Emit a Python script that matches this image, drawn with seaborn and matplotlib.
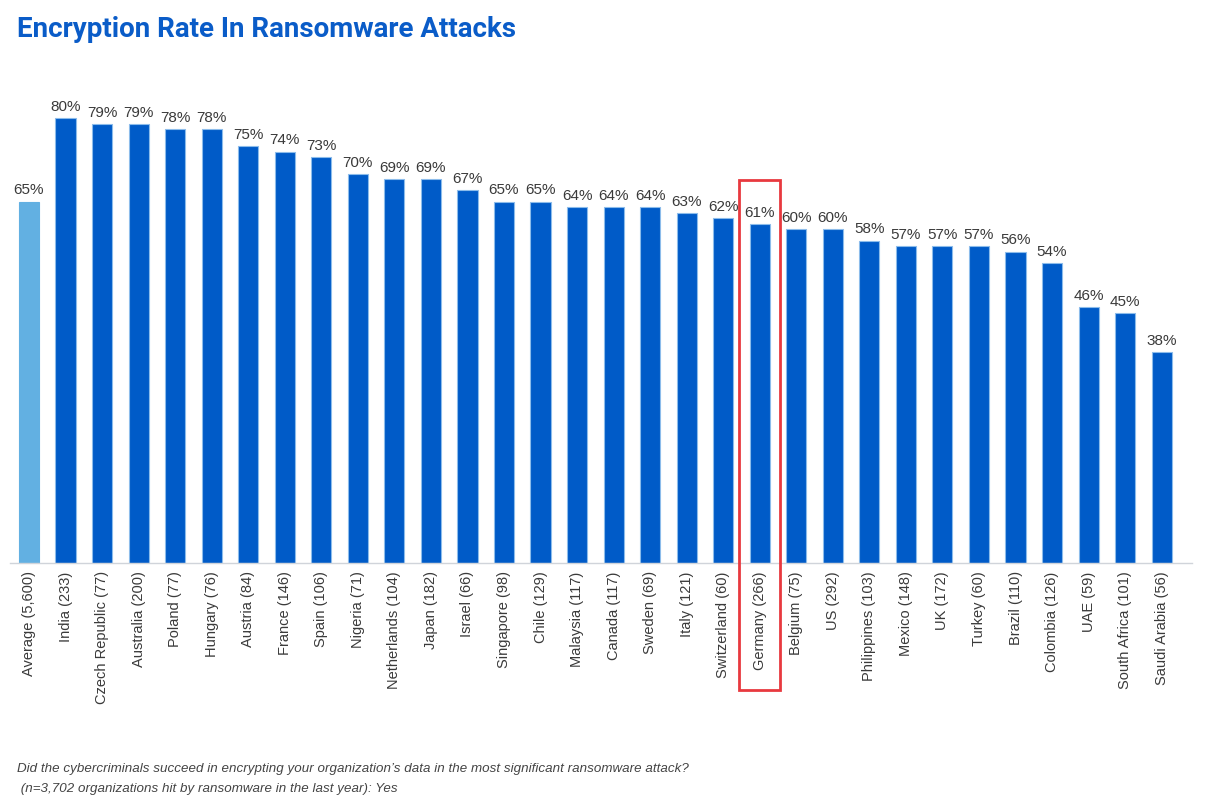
import matplotlib
matplotlib.use("Agg")
import matplotlib.pyplot as plt
import matplotlib.transforms as mtransforms
from matplotlib.patches import Rectangle
import seaborn as sns
import pandas as pd

countries = ["Average (5,600)", "India (233)", "Czech Republic (77)", "Australia (200)",
             "Poland (77)", "Hungary (76)", "Austria (84)", "France (146)", "Spain (106)",
             "Nigeria (71)", "Netherlands (104)", "Japan (182)", "Israel (66)",
             "Singapore (98)", "Chile (129)", "Malaysia (117)", "Canada (117)",
             "Sweden (69)", "Italy (121)", "Switzerland (60)", "Germany (266)",
             "Belgium (75)", "US (292)", "Philippines (103)", "Mexico (148)", "UK (172)",
             "Turkey (60)", "Brazil (110)", "Colombia (126)", "UAE (59)",
             "South Africa (101)", "Saudi Arabia (56)"]
rates = [65, 80, 79, 79, 78, 78, 75, 74, 73, 70, 69, 69, 67, 65, 65, 64, 64, 64, 63,
         62, 61, 60, 60, 58, 57, 57, 57, 56, 54, 46, 45, 38]
highlight = "Germany (266)"

title = "Encryption Rate In Ransomware Attacks"
note1 = "Did the cybercriminals succeed in encrypting your organization\u2019s data in the most significant ransomware attack?"
note2 = " (n=3,702 organizations hit by ransomware in the last year): Yes"

sns.set_theme(style="white")
plt.rcParams["font.family"] = ["Liberation Sans", "DejaVu Sans"]

W, H = 1208, 807
fig = plt.figure(figsize=(W / 100, H / 100), dpi=100)
ax = fig.add_axes([10 / W, 1 - 563 / H, (1192 - 10) / W, (563 - 7) / H])

df = pd.DataFrame({"country": countries, "rate": rates})
palette = {c: ("#62B0E2" if c.startswith("Average") else "#005BC8") for c in countries}
sns.barplot(data=df, x="country", y="rate", hue="country", palette=palette,
            legend=False, width=0.55, ax=ax, saturation=1,
            edgecolor="#8CBCEB", linewidth=0.8)
# average bar without the light outline
ax.patches[0].set_edgecolor("#62B0E2")

ax.set_ylim(0, 100)
ax.set_xlim(-0.52, len(countries) - 1 + 0.83)
ax.set_xlabel("")
ax.set_ylabel("")
ax.set_yticks([])
for s in ["top", "right", "left"]:
    ax.spines[s].set_visible(False)
ax.spines["bottom"].set_color("#D0D4DA")
ax.spines["bottom"].set_linewidth(1.0)
ax.tick_params(axis="x", length=0, pad=6)
ax.set_xticks(range(len(countries)))
ax.set_xticklabels(countries, rotation=90, fontsize=10.5, color="#3a3a3a")

for i, v in enumerate(rates):
    ax.annotate(f"{v}%", (i, v), xytext=(0, 3), textcoords="offset points",
                ha="center", va="bottom", fontsize=11, color="#3a3a3a")

# highlight box
idx = countries.index(highlight)
trans = mtransforms.blended_transform_factory(ax.transData, fig.transFigure)
rect = Rectangle((idx - 0.56, 1 - 690 / H), 1.12, (690 - 180) / H,
                 transform=trans, fill=False, edgecolor="#E8393F", linewidth=2.0,
                 clip_on=False)
fig.add_artist(rect)

fig.text(17 / W, 1 - 37 / H, title, fontsize=20, fontweight="bold",
         color="#0A5CC8", family=["Roboto", "DejaVu Sans"], va="baseline")
fig.text(17 / W, 1 - 772 / H, note1, fontsize=9.6, style="italic", color="#444444",
         va="baseline")
fig.text(17 / W, 1 - 792 / H, note2, fontsize=9.6, style="italic", color="#444444",
         va="baseline")

fig.savefig("out.png", dpi=100, facecolor="white")
